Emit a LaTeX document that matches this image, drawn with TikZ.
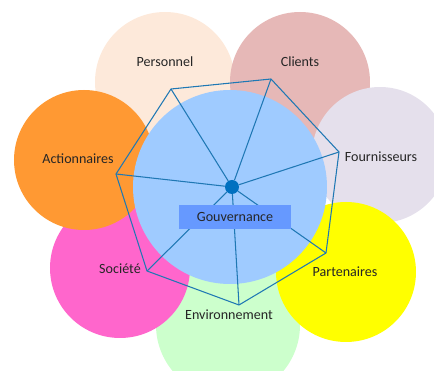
\documentclass[tikz,border=0pt]{standalone}
\usepackage{fontspec}
\setmainfont{Carlito}
\definecolor{personnel}{HTML}{FDE9DA}
\definecolor{clients}{HTML}{E6B8B7}
\definecolor{fournisseurs}{HTML}{E5E0EC}
\definecolor{partenaires}{HTML}{FFFF00}
\definecolor{environnement}{HTML}{CCFFCC}
\definecolor{societe}{HTML}{FF66CC}
\definecolor{actionnaires}{HTML}{FF9933}
\definecolor{centre}{HTML}{9FCBFF}
\definecolor{govbox}{HTML}{6699FF}
\definecolor{webline}{HTML}{1F78B4}
\definecolor{hubdot}{HTML}{0070C0}
\definecolor{txt}{HTML}{262626}
\begin{document}
\begin{tikzpicture}[x=0.03cm,y=-0.03cm,
    lbl/.style={text=txt,font=\fontsize{12}{14}\selectfont},
    web/.style={webline,line width=0.9pt,line join=round}]
  \clip (0,0) rectangle (434,371);
  % petals
  \fill[personnel] (165,82) circle (70);
  \fill[clients] (300,82) circle (70);
  \fill[fournisseurs] (380,155) circle (68);
  \fill[environnement] (228,325) circle (72);
  \fill[partenaires] (346,272) circle (70);
  \fill[societe] (120,268) circle (70);
  \fill[actionnaires] (84,160) circle (70);
  \fill[centre] (230,187) circle (97);
  \node[lbl] (personnel) at (165,62) {Personnel};
  \node[lbl] (clients) at (300,62) {Clients};
  \node[lbl] (fournisseurs) at (381,157) {Fournisseurs};
  \node[lbl] (partenaires) at (345,272) {Partenaires};
  \node[lbl] (environnement) at (229,315) {Environnement};
  \node[lbl] (societe) at (120,269) {Société};
  \node[lbl] (actionnaires) at (78,159) {Actionnaires};
  % web
  \coordinate (p1) at (171,89);
  \coordinate (p2) at (271,79);
  \coordinate (p3) at (339,152);
  \coordinate (p4) at (326,253);
  \coordinate (p5) at (239,305);
  \coordinate (p6) at (147,271);
  \coordinate (p7) at (116,174);
  \draw[web] (p1) -- (p2) -- (p3) -- (p4) -- (p5) -- (p6) -- (p7) -- cycle;
  \node[circle,fill=hubdot,inner sep=0pt,minimum size=0.42cm] (hub) at (232,187) {};
  \foreach \p in {p1,p2,p3,p4,p5,p6,p7}
    \draw[web] (hub) -- (\p);
  \node[lbl,fill=govbox,inner sep=0pt,minimum width=3.36cm,minimum height=0.72cm] (gov) at (235,217) {Gouvernance};
\end{tikzpicture}
\end{document}
